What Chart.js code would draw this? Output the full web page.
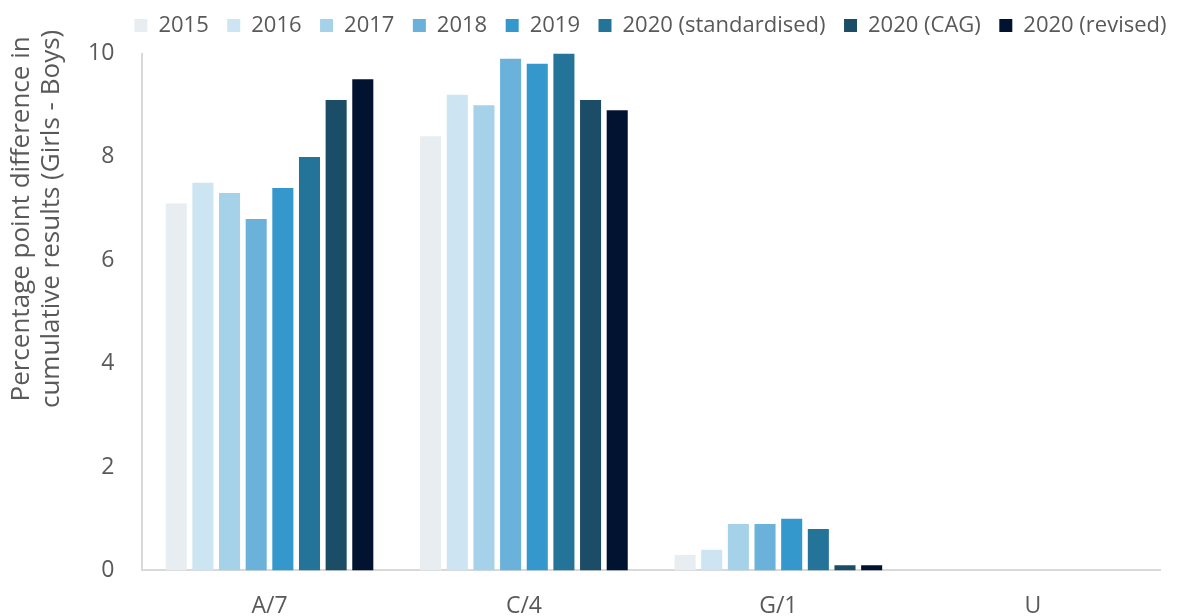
<!DOCTYPE html>
<html>
<head>
<meta charset="utf-8">
<script src="https://cdn.jsdelivr.net/npm/chart.js@4.4.0/dist/chart.umd.min.js"></script>
<style>
  html, body { margin: 0; padding: 0; background: #fff; }
  #wrap { width: 1195px; height: 616px; }
</style>
</head>
<body>
<div id="wrap"><canvas id="gradeChart" width="1195" height="616"></canvas></div>
<script>
// Kategorier og serier
const grades = ['A/7', 'C/4', 'G/1', 'U'];
const seriesNames = ['2015', '2016', '2017', '2018', '2019', '2020 (standardised)', '2020 (CAG)', '2020 (revised)'];
const v2015 = [7.1, 8.4, 0.3, 0];
const v2016 = [7.5, 9.2, 0.4, 0];
const v2017 = [7.3, 9.0, 0.9, 0];
const v2018 = [6.8, 9.9, 0.9, 0];
const v2019 = [7.4, 9.8, 1.0, 0];
const v2020std = [8.0, 10.0, 0.8, 0];
const v2020cag = [9.1, 9.1, 0.1, 0];
const v2020rev = [9.5, 8.9, 0.1, 0];
const yTicks = [0, 2, 4, 6, 8, 10];
const yTitleLines = ['Percentage point difference in', 'cumulative results (Girls - Boys)'];

const seriesValues = [v2015, v2016, v2017, v2018, v2019, v2020std, v2020cag, v2020rev];
const colours = ['#E8EDF2', '#CDE4F2', '#A5D2E8', '#6AB2DA', '#3498CC', '#247398', '#1C4D66', '#021331'];

const textGrey = '#595959';
const fontFamily = "'Open Sans', 'Noto Sans', sans-serif";

// Y-aksetittel tegnes selv (står litt over midten, som i originalen)
const yTitlePlugin = {
  id: 'yTitle',
  afterLayout(chart) {
    // flytt legenden litt opp, uten å flytte plottet
    chart.legend.top -= 7;
    chart.legend.bottom -= 7;
  },
  afterDraw(chart) {
    const { chartArea: { top, bottom } } = chart;
    const c = chart.ctx;
    const yCenter = top + (bottom - top) * 0.32;
    c.save();
    c.translate(22, yCenter);
    c.rotate(-Math.PI / 2);
    c.font = `26px ${fontFamily}`;
    c.fillStyle = textGrey;
    c.textAlign = 'center';
    c.textBaseline = 'middle';
    c.fillText(yTitleLines[0], 0, 0);
    c.fillText(yTitleLines[1], 0, 30);
    c.restore();
  }
};

const ctx = document.getElementById('gradeChart').getContext('2d');

new Chart(ctx, {
  type: 'bar',
  data: {
    labels: grades,
    datasets: seriesNames.map((name, i) => ({
      label: name,
      data: seriesValues[i],
      backgroundColor: colours[i],
      borderWidth: 0,
      barPercentage: 0.79,
      categoryPercentage: 0.838
    }))
  },
  options: {
    responsive: false,
    animation: false,
    layout: { padding: { left: 60, right: 10, top: 3, bottom: -26 } },
    plugins: {
      legend: {
        position: 'top',
        align: 'end',
        labels: {
          boxWidth: 13,
          boxHeight: 13,
          padding: 18.5,
          color: textGrey,
          font: { family: fontFamily, size: 22 }
        }
      },
      tooltip: { enabled: false }
    },
    scales: {
      x: {
        grid: { display: false, drawTicks: false },
        border: { display: true, color: '#D9D9D9', width: 2 },
        ticks: {
          color: textGrey,
          padding: 22,
          font: { family: fontFamily, size: 23 }
        }
      },
      y: {
        min: 0,
        max: 10,
        afterBuildTicks: axis => { axis.ticks = yTicks.map(v => ({ value: v })); },
        grid: { display: false, drawTicks: false },
        border: { display: true, color: '#D9D9D9', width: 2 },
        ticks: {
          color: textGrey,
          padding: 28,
          font: { family: fontFamily, size: 23 }
        }
      },
      // tom akse til høyre, bare for å gi plass til høyre for plottet
      yRight: {
        position: 'right',
        grid: { display: false },
        border: { display: false },
        ticks: { display: false },
        afterFit: scale => { scale.width = 25; }
      }
    }
  },
  plugins: [yTitlePlugin]
});
</script>
</body>
</html>
